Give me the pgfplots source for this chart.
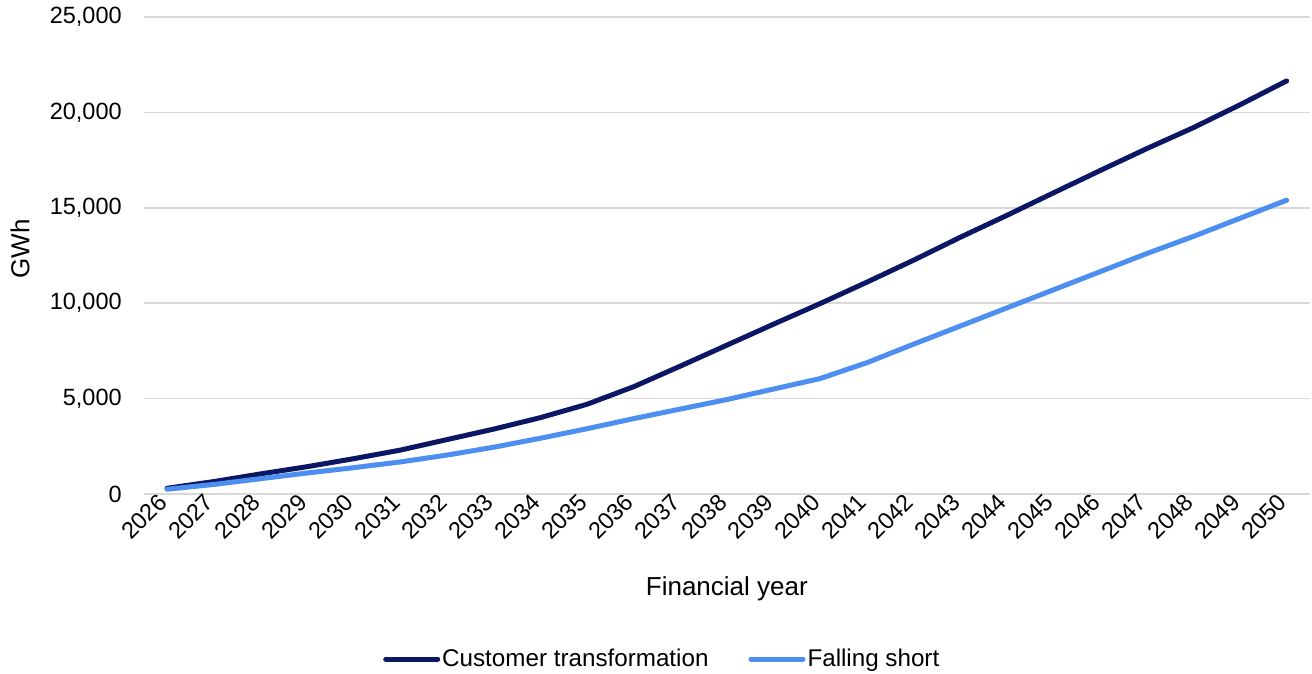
\documentclass[border=0pt]{standalone}
\usepackage{fontspec}
\setmainfont{Liberation Sans}
\usepackage{pgfplots}
\pgfplotsset{compat=1.18}
\definecolor{ct}{HTML}{0B1765}
\definecolor{fs}{HTML}{4D8FF0}
\definecolor{gridc}{HTML}{D9D9D9}
\newcommand{\tf}{\fontsize{23.5}{27}\selectfont}
\newcommand{\gf}{\fontsize{24.2}{28}\selectfont}
\newcommand{\lf}{\fontsize{26}{30}\selectfont}
\begin{document}
\tf
\begin{tikzpicture}
\useasboundingbox (-143.7pt,-180pt) rectangle (1168.3pt,494pt);
\begin{axis}[
  at={(0pt,0pt)}, anchor=south west,
  scale only axis, width=1166.3pt, height=477pt,
  xmin=-0.5, xmax=24.5, ymin=0, ymax=25000,
  axis line style={draw=none},
  tick style={draw=none},
  ytick={0,5000,...,25000},
  ymajorgrids, grid style={gridc, line width=1.6pt},
  xtick={0,...,24},
  xticklabels={2026,2027,2028,2029,2030,2031,2032,2033,2034,2035,2036,2037,2038,2039,2040,2041,2042,2043,2044,2045,2046,2047,2048,2049,2050},
  xticklabel style={rotate=45, anchor=east, font=\tf, xshift=2pt},
  yticklabel style={font=\tf, xshift=-14pt},
  /pgf/number format/.cd, 1000 sep={,}, assume math mode=true,
  /pgfplots/.cd,
  scaled y ticks=false,
  xlabel={Financial year}, ylabel={GWh},
  label style={font=\lf},
  xlabel style={at={(axis description cs:0.5,-0.199)}, anchor=center},
  ylabel style={at={(axis description cs:-0.106,0.514)}, anchor=center, rotate=0},
  legend columns=-1,
  legend style={draw=none, font=\gf, at={(axis description cs:0.2052,-0.346)}, anchor=west,
    inner xsep=0pt, inner ysep=0pt,
    /tikz/every even column/.append style={column sep=38pt},
    nodes={inner xsep=2pt}},
  legend image code/.code={\draw[#1, line width=5pt, line cap=round] (2.5pt,0pt) -- (54.5pt,0pt);},
]
\addplot[ct, line width=5pt, line cap=round, line join=round, mark=none] coordinates {
(0,300) (1,650) (2,1050) (3,1430) (4,1850) (5,2300) (6,2850) (7,3400) (8,4000) (9,4700)
(10,5620) (11,6700) (12,7800) (13,8900) (14,9980) (15,11100) (16,12250) (17,13450) (18,14600) (19,15780)
(20,16950) (21,18100) (22,19200) (23,20400) (24,21650)};
\addlegendentry{Customer transformation}
\addplot[fs, line width=5pt, line cap=round, line join=round, mark=none] coordinates {
(0,250) (1,500) (2,800) (3,1100) (4,1380) (5,1680) (6,2040) (7,2450) (8,2920) (9,3420)
(10,3950) (11,4450) (12,4950) (13,5500) (14,6050) (15,6880) (16,7850) (17,8800) (18,9750) (19,10700)
(20,11650) (21,12600) (22,13500) (23,14450) (24,15400)};
\addlegendentry{Falling short}
\end{axis}
\end{tikzpicture}
\end{document}
